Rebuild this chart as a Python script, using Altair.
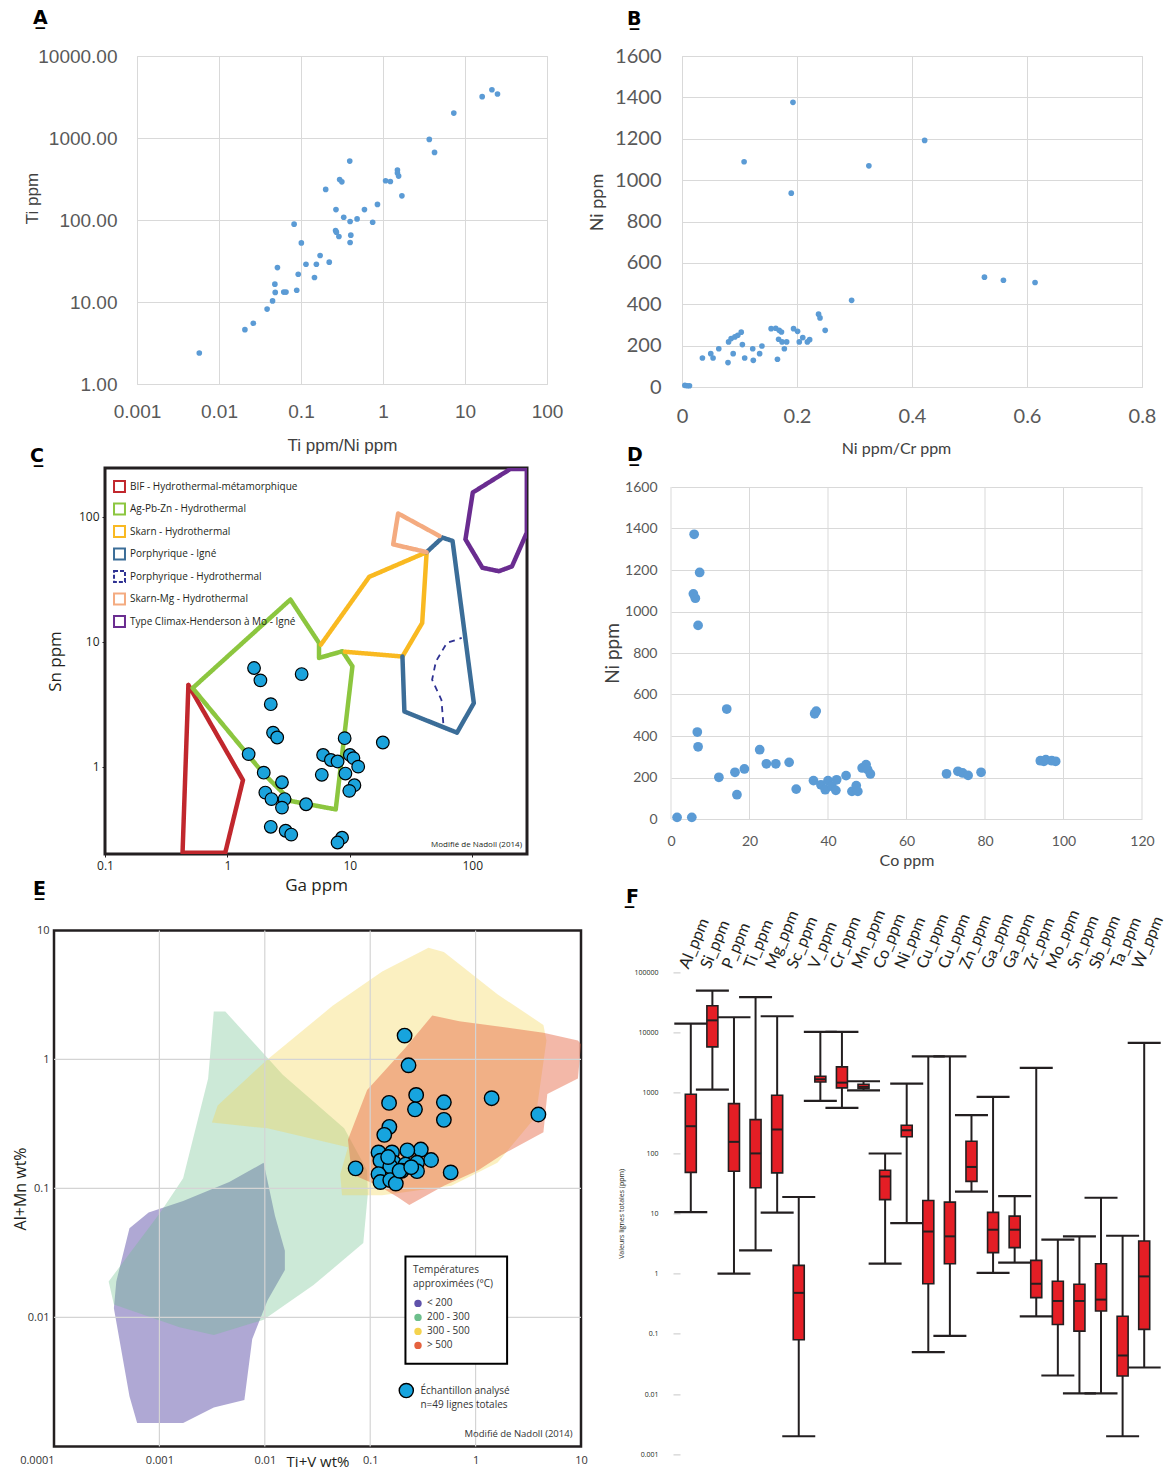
import altair as alt
import pandas as pd

# ------------------------------------------------------------------ Panel A
A_X = [0.00575, 0.0207, 0.0262, 0.0386, 0.045, 0.0485, 0.048, 0.0516, 0.0616, 0.0656,
       0.0887, 0.0925, 0.0824, 0.101, 0.115, 0.146, 0.154, 0.171, 0.221, 0.2,
       0.267, 0.264, 0.27, 0.29, 0.296, 0.315, 0.332, 0.393, 0.397, 0.405,
       0.397, 0.483, 0.594, 0.748, 0.856, 1.076, 1.23, 1.5, 1.5, 1.55,
       1.7, 3.67, 4.25, 7.3, 16.2, 21.3, 24.9]
A_Y = [2.39, 4.6, 5.5, 8.2, 10.3, 13.1, 16.5, 26.3, 13.2, 13.2,
       13.9, 21.8, 89, 52.6, 28.9, 19.9, 28.9, 36.9, 30.6, 236,
       134, 74.5, 71, 62.9, 312, 292, 108, 523, 95.9, 65.3,
       53.1, 103, 134, 94, 155, 301, 295, 406, 374, 343,
       197, 961, 667, 2015, 3191, 3880, 3436]
A_XTICKS = [0.001, 0.01, 0.1, 1, 10, 100]
A_YTICKS = [1, 10, 100, 1000, 10000]

# ------------------------------------------------------------------ Panel B
B_X = [0.005, 0.013, 0.009, 0.0355, 0.05, 0.054, 0.064, 0.080, 0.081, 0.089,
       0.0855, 0.092, 0.097, 0.103, 0.105, 0.109, 0.123, 0.124, 0.135, 0.139,
       0.108, 0.155, 0.163, 0.169, 0.173, 0.166, 0.168, 0.174, 0.178, 0.182,
       0.193, 0.19, 0.194, 0.201, 0.204, 0.21, 0.218, 0.222, 0.2375, 0.24,
       0.249, 0.295, 0.325, 0.422, 0.526, 0.559, 0.614]
B_Y = [8, 6, 6, 140, 161, 140, 185, 118, 218, 161,
       234, 242, 250, 265, 205, 140, 185, 129, 161, 198,
       1089, 282, 284, 274, 266, 134, 231, 218, 185, 218,
       1376, 937, 282, 269, 218, 239, 218, 229, 352, 334,
       274, 419, 1069, 1192, 531, 516, 505]
B_XTICKS = [0, 0.2, 0.4, 0.6, 0.8]
B_YTICKS = [0, 200, 400, 600, 800, 1000, 1200, 1400, 1600]

# ------------------------------------------------------------------ Panel C
C_GA = [1.65, 1.86, 4.04, 2.26, 2.36, 2.55, 1.49, 9.07, 18.6, 6.05,
        7.0, 7.94, 10, 10.7, 11.7, 1.98, 5.9, 9.2, 2.79, 10.9,
        9.9, 2.04, 2.29, 2.93, 2.79, 4.39, 2.26, 2.99, 3.32, 8.64, 7.94]
C_SN = [6.15, 4.9, 5.5, 3.16, 1.87, 1.71, 1.26, 1.69, 1.56, 1.24,
        1.13, 1.1, 1.24, 1.17, 1.0, 0.895, 0.86, 0.88, 0.75, 0.71,
        0.64, 0.62, 0.55, 0.55, 0.47, 0.50, 0.33, 0.307, 0.286, 0.27, 0.247]
C_TYPES = ["BIF - Hydrothermal-métamorphique", "Ag-Pb-Zn - Hydrothermal",
           "Skarn - Hydrothermal", "Porphyrique - Igné", "Porphyrique - Hydrothermal",
           "Skarn-Mg - Hydrothermal", "Type Climax-Henderson à Mo - Igné"]
C_COLORS = ["#c1272d", "#8cc63f", "#f9b921", "#3b6d98", "#2e3192", "#f4ab80", "#6a2c90"]
C_DASHES = [[1, 0], [1, 0], [1, 0], [1, 0], [4, 2], [1, 0], [1, 0]]
C_BIF_X = [0.48, 1.34, 0.96, 0.43, 0.48]
C_BIF_Y = [4.5, 0.78, 0.205, 0.205, 4.5]
C_AGPBZN_X = [0.52, 3.27, 5.6, 5.6, 8.7, 10.5, 7.67, 3.32, 1.97, 0.52]
C_AGPBZN_Y = [4.25, 21.7, 9.76, 7.4, 8.37, 6.35, 0.455, 0.53, 0.88, 4.25]
C_SKARN_X = [5.8, 14.4, 42.4, 39, 26.9, 9.1]
C_SKARN_Y = [9.46, 33, 52, 14.1, 7.6, 8.3]
C_PORIG_X = [26.9, 27.9, 75, 103, 69, 57, 42.4]
C_PORIG_Y = [7.6, 2.76, 1.87, 3.22, 64, 68, 52]
C_PORHYD_X = [58, 56, 47, 50.5, 62, 82]
C_PORHYD_Y = [2.23, 3.42, 4.96, 6.95, 9.76, 10.7]
C_SKMG_X = [42.4, 22.6, 24.8, 54]
C_SKMG_Y = [52, 60, 106, 70]
C_CLIMAX_X = [88, 101, 204, 279, 279, 211, 165, 121, 88]
C_CLIMAX_Y = [65.8, 156, 240, 240, 74.5, 40, 36.6, 39, 65.8]
C_XTICKS = [0.1, 1, 10, 100]
C_YTICKS = [1, 10, 100]

# ------------------------------------------------------------------ Panel D
D_X = [1.55, 5.3, 5.9, 7.3, 5.7, 6.2, 6.9, 6.7, 6.9, 14.2,
       12.2, 16.3, 16.8, 18.7, 22.6, 24.3, 26.7, 30.1, 31.9, 36.6,
       36.3, 38.2, 39.3, 40, 41, 42, 42.2, 44.6, 46.1, 47.2,
       47.6, 48.7, 49.7, 50.1, 50.8, 70.2, 73.1, 74.3, 75.7, 79,
       94.1, 95.5, 97, 98, 95, 37]
D_Y = [8, 8, 1372, 1188, 1085, 1064, 933, 419, 348, 530,
       201, 225, 117, 241, 334, 266, 266, 273, 144, 507,
       185, 165, 141, 185, 157, 138, 189, 209, 133, 161,
       133, 246, 262, 238, 217, 218, 230, 222, 210, 225,
       281, 286, 281, 278, 278, 520]
D_XTICKS = [0, 20, 40, 60, 80, 100, 120]
D_YTICKS = [0, 200, 400, 600, 800, 1000, 1200, 1400, 1600]

# ------------------------------------------------------------------ Panel E
E_X = [0.212, 0.231, 0.273, 0.266, 0.151, 0.5, 0.5, 1.42, 3.94, 0.152,
       0.136, 0.0727, 0.58, 0.378, 0.302, 0.225, 0.12, 0.161, 0.125, 0.168,
       0.216, 0.278, 0.278, 0.199, 0.155, 0.12, 0.125, 0.155, 0.175, 0.19,
       0.148, 0.245]
E_Y = [1.53, 0.90, 0.53, 0.41, 0.46, 0.465, 0.34, 0.50, 0.374, 0.30,
       0.26, 0.143, 0.133, 0.166, 0.2, 0.197, 0.19, 0.19, 0.164, 0.158,
       0.153, 0.158, 0.136, 0.137, 0.148, 0.129, 0.112, 0.116, 0.109, 0.137,
       0.175, 0.146]
E_ZONES = ["< 200", "200 - 300", "300 - 500", "> 500"]
E_COLORS = ["#5f52aa", "#6dbf8c", "#f4d34e", "#e5623f"]
E_OPAC = [0.5, 0.35, 0.35, 0.45]
E_PURPLE_X = [0.00975, 0.0125, 0.0155, 0.0155, 0.0106, 0.0076, 0.0064, 0.00328, 0.00168,
              0.000615, 0.00052, 0.00037, 0.00039, 0.00052, 0.00079, 0.00168, 0.0046]
E_PURPLE_Y = [0.158, 0.061, 0.0328, 0.0233, 0.0135, 0.0068, 0.00229, 0.002, 0.00152,
              0.00152, 0.00245, 0.0118, 0.019, 0.049, 0.065, 0.0798, 0.112]
E_GREEN_X = [0.00328, 0.00422, 0.0148, 0.0566, 0.0935, 0.095, 0.086, 0.029, 0.00975,
             0.00328, 0.00155, 0.00037, 0.00033, 0.00102, 0.00168, 0.0029]
E_GREEN_Y = [2.35, 2.35, 0.76, 0.292, 0.138, 0.0915, 0.0377, 0.0178, 0.0096,
             0.0073, 0.0084, 0.0126, 0.019, 0.065, 0.12, 0.71]
E_YELLOW_X = [0.00315, 0.00357, 0.0106, 0.044, 0.13, 0.357, 0.5, 1.61, 4.4,
              4.7, 3.72, 1.61, 0.59, 0.13, 0.054, 0.052, 0.0615, 0.0106]
E_YELLOW_Y = [0.324, 0.44, 1.0, 2.6, 4.8, 7.35, 6.8, 3.2, 1.85,
              1.4, 0.359, 0.158, 0.105, 0.0885, 0.0885, 0.129, 0.208, 0.292]
E_RED_X = [0.0615, 0.0935, 0.216, 0.388, 0.7, 4.4, 9.35, 10, 9.35,
           4.79, 4.4, 1.75, 1.06, 0.5, 0.235, 0.183, 0.12, 0.067]
E_RED_Y = [0.238, 0.58, 1.23, 2.19, 1.98, 1.61, 1.4, 1.31, 0.71,
           0.54, 0.273, 0.181, 0.138, 0.105, 0.0745, 0.0855, 0.105, 0.129]
E_XTICKS = [0.0001, 0.001, 0.01, 0.1, 1, 10]
E_YTICKS = [0.01, 0.1, 1, 10]
E_GRID_X = [0.001, 0.01, 0.1, 1]
E_GRID_Y = [0.01, 0.1, 1]
E_SAMPLE_TEXT = "Échantillon analysé\nn=49 lignes totales"
NADOLL = "Modifié de Nadoll (2014)"

# ------------------------------------------------------------------ Panel F
F_LABELS = ["Al_ppm", "Si_ppm", "P_ppm", "Ti_ppm", "Mg_ppm", "Sc_ppm", "V_ppm", "Cr_ppm",
            "Mn_ppm", "Co_ppm", "Ni_ppm", "Cu_ppm", "Cu_ppm", "Zn_ppm", "Ga_ppm", "Ga_ppm",
            "Zr_ppm", "Mo_ppm", "Sn_ppm", "Sb_ppm", "Ta_ppm", "W_ppm"]
F_LO = [10.5, 1130, 1.0, 2.44, 10.3, 0.002, 740, 564, 1100, 1.47, 6.9,
        0.05, 0.093, 23, 1.03, 1.52, 0.196, 0.0204, 0.0103, 0.0103, 0.002, 0.0277]
F_Q1 = [48, 5800, 50, 26.6, 47, 0.08, 1520, 1210, 1180, 16.9, 187,
        0.68, 1.46, 34, 2.23, 2.7, 0.40, 0.143, 0.111, 0.24, 0.020, 0.119]
F_MED = [280, 16000, 154, 99, 247, 0.48, 1680, 1480, 1260, 41, 240,
         5.0, 4.16, 59, 5.36, 5.36, 0.68, 0.352, 0.352, 0.371, 0.0438, 0.90]
F_Q3 = [950, 28000, 665, 360, 915, 1.37, 1890, 2700, 1390, 52, 291,
        16.4, 15.4, 158, 10.4, 9.0, 1.66, 0.746, 0.666, 1.46, 0.196, 3.48]
F_HI = [14100, 50000, 18000, 39000, 18700, 18.7, 10300, 10300, 1560, 98.7, 1430,
        4050, 4050, 427, 860, 19.4, 2600, 3.66, 4.16, 18.2, 4.26, 6740]
F_YTICKS = [0.001, 0.01, 0.1, 1, 10, 100, 1000, 10000, 100000]

# ================================================================== styling helpers
XL_BLUE = "#5b9bd5"
GRID = "#d9d9d9"
INK = "#231f20"

# layout: D and F plot areas start lower than their row neighbours; their
# scales get head-room above the top tick so that the tops line up.
D_H, D_SHIFT = 332, 19
F_H, F_SHIFT = 482, 42
D_TOP = 1600 * (D_H + D_SHIFT) / D_H
F_TOP = 100000 * 10 ** (8 * F_SHIFT / F_H)


def ptitle(letter, dx, offset, dy=0):
    return alt.TitleParams(text=letter + "\u0332", anchor="start", frame="group",
                           font="DejaVu Sans", fontSize=19, fontWeight="bold",
                           color="black", dx=dx, dy=dy, offset=offset)


def excel_axis(title, values, fmt, font, lsize, tsize, lpad, tx=None, ty=None, grid=True):
    kw = dict(title=title, values=values, format=fmt, labelFont=font, labelFontSize=lsize,
              labelColor="#595959", titleFont=font, titleFontSize=tsize,
              titleFontWeight="normal", titleColor="#404040", grid=grid, gridColor=GRID,
              gridWidth=1, domain=False, ticks=False, labelPadding=lpad,
              labelFlush=False, labelOverlap=False, titleBaseline="middle")
    if tx is not None:
        kw["titleX"] = tx
    if ty is not None:
        kw["titleY"] = ty
    return alt.Axis(**kw)


def spacer(w, h):
    return alt.Chart(pd.DataFrame({"s": [0]})).mark_point(opacity=0, size=0, strokeWidth=0).encode(
        x=alt.X("s:Q", axis=None, scale=alt.Scale(domain=[0, 1])),
        y=alt.Y("s:Q", axis=None, scale=alt.Scale(domain=[0, 1]))
    ).properties(width=w, height=h)


# ================================================================== Panel A
chartA = alt.Chart(pd.DataFrame({"x": A_X, "y": A_Y})).mark_circle(
    size=32, color=XL_BLUE, opacity=1
).encode(
    x=alt.X("x:Q", scale=alt.Scale(type="log", domain=[0.001, 100], nice=False),
            axis=excel_axis("Ti ppm/Ni ppm", A_XTICKS, "~g", "Liberation Sans", 19, 17, 18, ty=61)),
    y=alt.Y("y:Q", scale=alt.Scale(type="log", domain=[1, 10000], nice=False),
            axis=excel_axis("Ti ppm", A_YTICKS, ".2f", "Liberation Sans", 19, 17, 20, tx=-105, ty=142)),
).properties(width=410, height=328, view=alt.ViewBackground(stroke=GRID, strokeWidth=1),
             title=ptitle("A", -104, 19))

# ================================================================== Panel B
chartB = alt.Chart(pd.DataFrame({"x": B_X, "y": B_Y})).mark_circle(
    size=32, color=XL_BLUE, opacity=1
).encode(
    x=alt.X("x:Q", scale=alt.Scale(domain=[0, 0.8], nice=False, zero=False),
            axis=excel_axis("Ni ppm/Cr ppm", B_XTICKS, "~g", "Lato", 20, 16, 19, tx=214, ty=61)),
    y=alt.Y("y:Q", scale=alt.Scale(domain=[0, 1600], nice=False),
            axis=excel_axis("Ni ppm", B_YTICKS, "d", "Lato", 20, 18, 21, tx=-85, ty=146)),
).properties(width=460, height=331, view=alt.ViewBackground(stroke=GRID, strokeWidth=1),
             title=ptitle("B", -55, 17))

# ================================================================== Panel C
cx = alt.Scale(type="log", domain=[0.1, 280], nice=False)
cy = alt.Scale(type="log", domain=[0.2, 245], nice=False)
c_xaxis = alt.Axis(title="Ga ppm", values=C_XTICKS, format="~g", labelFont="Open Sans",
                   labelFontSize=12, labelColor=INK, titleFont="Open Sans", titleFontSize=17,
                   titleFontWeight="normal", titleColor=INK, grid=False, domain=False,
                   ticks=True, tickSize=3, tickColor=INK, labelPadding=3, labelFlush=False,
                   labelOverlap=False, titleY=31, titleBaseline="middle")
c_yaxis = alt.Axis(title="Sn ppm", values=C_YTICKS, format="~g", labelFont="Open Sans",
                   labelFontSize=12, labelColor=INK, titleFont="Open Sans", titleFontSize=17,
                   titleFontWeight="normal", titleColor=INK, grid=False, domain=False,
                   ticks=True, tickSize=3, tickColor=INK, labelPadding=3, labelFlush=False,
                   labelOverlap=False, titleX=-50, titleBaseline="middle")
C_LEGEND = alt.Legend(title=None, orient="none", legendX=59, legendY=12, symbolType="square",
                      symbolSize=120, symbolStrokeWidth=2, symbolFillColor="white",
                      labelFont="Open Sans", labelFontSize=10, labelColor=INK, labelLimit=320,
                      labelOffset=4, rowPadding=3.5, padding=0)

poly_src = [(C_TYPES[0], C_BIF_X, C_BIF_Y), (C_TYPES[1], C_AGPBZN_X, C_AGPBZN_Y),
            (C_TYPES[2], C_SKARN_X, C_SKARN_Y), (C_TYPES[3], C_PORIG_X, C_PORIG_Y),
            (C_TYPES[5], C_SKMG_X, C_SKMG_Y), (C_TYPES[6], C_CLIMAX_X, C_CLIMAX_Y)]
rows = []
for t, xs, ys in poly_src:
    for i, (xv, yv) in enumerate(zip(xs, ys)):
        rows.append({"type": t, "i": i, "x": xv, "y": yv})
dfCpoly = pd.DataFrame(rows)

c_polys = alt.Chart(dfCpoly).mark_line(strokeWidth=4.5, strokeJoin="round", strokeCap="round",
                                       clip=True).encode(
    x=alt.X("x:Q", scale=cx, axis=c_xaxis),
    y=alt.Y("y:Q", scale=cy, axis=c_yaxis),
    color=alt.Color("type:N", scale=alt.Scale(domain=C_TYPES, range=C_COLORS), legend=C_LEGEND),
    strokeDash=alt.StrokeDash("type:N", scale=alt.Scale(domain=C_TYPES, range=C_DASHES),
                              legend=C_LEGEND),
    detail="type:N",
    order="i:Q",
)
c_dash = alt.Chart(pd.DataFrame({"x": C_PORHYD_X, "y": C_PORHYD_Y,
                                 "i": list(range(len(C_PORHYD_X)))})).mark_line(
    strokeWidth=1.8, strokeDash=[6, 5], color=C_COLORS[4]
).encode(x=alt.X("x:Q", scale=cx, axis=c_xaxis), y=alt.Y("y:Q", scale=cy, axis=c_yaxis),
         order="i:Q")
c_pts = alt.Chart(pd.DataFrame({"x": C_GA, "y": C_SN})).mark_circle(
    size=160, color="#1ba3dc", stroke="black", strokeWidth=1.2, opacity=1
).encode(x=alt.X("x:Q", scale=cx, axis=c_xaxis), y=alt.Y("y:Q", scale=cy, axis=c_yaxis))
c_txt = alt.Chart(pd.DataFrame({"x": [255], "y": [0.238], "t": [NADOLL]})).mark_text(
    align="right", baseline="middle", font="Open Sans", fontSize=8, color=INK
).encode(x=alt.X("x:Q", scale=cx, axis=c_xaxis), y=alt.Y("y:Q", scale=cy, axis=c_yaxis),
         text="t:N")
chartC = alt.layer(c_polys, c_dash, c_pts, c_txt).properties(
    width=422, height=386, view=alt.ViewBackground(stroke=INK, strokeWidth=3),
    title=ptitle("C", -75, 2))

# ================================================================== Panel D
dx_enc = alt.X("x:Q", scale=alt.Scale(domain=[0, 120], nice=False),
               axis=excel_axis("Co ppm", D_XTICKS, "d", "Lato", 14, 16, 15, ty=41, grid=False))
dy_enc = alt.Y("y:Q", scale=alt.Scale(domain=[0, D_TOP], nice=False),
               axis=excel_axis("Ni ppm", D_YTICKS, "d", "Lato", 14, 19, 14, tx=-59,
                               ty=D_SHIFT + D_H / 2))
d_vgrid = alt.Chart(pd.DataFrame({"x": D_XTICKS, "y": 0, "y2": 1600})).mark_rule(
    color=GRID, strokeWidth=1).encode(x=dx_enc, y=dy_enc, y2="y2:Q")
d_pts = alt.Chart(pd.DataFrame({"x": D_X, "y": D_Y})).mark_circle(
    size=95, color=XL_BLUE, opacity=1).encode(x=dx_enc, y=dy_enc)
chartD = alt.layer(d_vgrid, d_pts).properties(width=471, height=D_H + D_SHIFT,
                                             title=ptitle("D", -44, 3))

# ================================================================== Panel E
ex = alt.Scale(type="log", domain=[0.0001, 10], nice=False)
ey = alt.Scale(type="log", domain=[0.001, 10], nice=False)
e_xaxis = alt.Axis(title="Ti+V wt%", values=E_XTICKS, format="~g", labelFont="Open Sans",
                   labelFontSize=11, labelColor="#333333", titleFont="Open Sans",
                   titleFontSize=15, titleFontWeight="normal", titleColor=INK, grid=False,
                   domain=False, ticks=False, labelPadding=8, labelFlush=False,
                   labelOverlap=False, titleY=15, titleBaseline="middle",
                   labelAlign={"condition": {"test": "datum.value < 0.0005", "value": "right"},
                               "value": "center"})
e_yaxis = alt.Axis(title="Al+Mn wt%", values=E_YTICKS, format="~g", labelFont="Open Sans",
                   labelFontSize=11, labelColor="#333333", titleFont="Open Sans",
                   titleFontSize=16, titleFontWeight="normal", titleColor=INK, grid=False,
                   domain=False, ticks=False, labelPadding=5, labelFlush=False,
                   labelOverlap=False, titleX=-34, titleBaseline="middle")
E_LEGEND = alt.Legend(title=["Températures", "approximées (°C)"], orient="none",
                      legendX=351, legendY=327, symbolType="circle", symbolSize=55,
                      symbolOpacity=1, symbolStrokeWidth=0, titleFont="Open Sans",
                      titleFontSize=10, titleFontWeight="normal", titleColor="#333333",
                      titleLineHeight=14, titlePadding=9, labelFont="Open Sans",
                      labelFontSize=10, labelColor="#333333", padding=8, rowPadding=4)
zone_scale = alt.Scale(domain=E_ZONES, range=E_COLORS)


def e_shape(xs, ys, k):
    df = pd.DataFrame({"x": xs, "y": ys, "i": list(range(len(xs))), "zone": E_ZONES[k]})
    return alt.Chart(df).mark_line(filled=True, fillOpacity=E_OPAC[k],
                                   interpolate="linear-closed").encode(
        x=alt.X("x:Q", scale=ex, axis=e_xaxis), y=alt.Y("y:Q", scale=ey, axis=e_yaxis),
        order="i:Q", color=alt.Color("zone:N", scale=zone_scale, legend=E_LEGEND))


e_shapes = [e_shape(E_PURPLE_X, E_PURPLE_Y, 0), e_shape(E_GREEN_X, E_GREEN_Y, 1),
            e_shape(E_YELLOW_X, E_YELLOW_Y, 2), e_shape(E_RED_X, E_RED_Y, 3)]
e_vgrid = alt.Chart(pd.DataFrame({"x": E_GRID_X})).mark_rule(color="#d4d4d4", strokeWidth=1.2).encode(
    x=alt.X("x:Q", scale=ex, axis=e_xaxis))
e_hgrid = alt.Chart(pd.DataFrame({"y": E_GRID_Y})).mark_rule(color="#d4d4d4", strokeWidth=1.2).encode(
    y=alt.Y("y:Q", scale=ey, axis=e_yaxis))
e_box = alt.Chart(pd.DataFrame({"x": [0.216], "x2": [1.99], "y": [0.0296], "y2": [0.00438]})).mark_rect(
    fill="white", stroke="black", strokeWidth=2
).encode(x=alt.X("x:Q", scale=ex, axis=e_xaxis), x2="x2:Q",
         y=alt.Y("y:Q", scale=ey, axis=e_yaxis), y2="y2:Q")
e_pts = alt.Chart(pd.DataFrame({"x": E_X, "y": E_Y})).mark_circle(
    size=210, color="#17a4de", stroke="black", strokeWidth=1.4, opacity=1
).encode(x=alt.X("x:Q", scale=ex, axis=e_xaxis), y=alt.Y("y:Q", scale=ey, axis=e_yaxis))
e_key_pt = alt.Chart(pd.DataFrame({"x": [0.22], "y": [0.00271]})).mark_circle(
    size=200, color="#17a4de", stroke="black", strokeWidth=1.4, opacity=1
).encode(x=alt.X("x:Q", scale=ex, axis=e_xaxis), y=alt.Y("y:Q", scale=ey, axis=e_yaxis))
e_key_txt = alt.Chart(pd.DataFrame({"x": [0.3], "y": [0.00271], "t": [E_SAMPLE_TEXT]})).mark_text(
    align="left", baseline="middle", font="Open Sans", fontSize=10, color="#333333",
    lineBreak="\n", lineHeight=14
).encode(x=alt.X("x:Q", scale=ex, axis=e_xaxis), y=alt.Y("y:Q", scale=ey, axis=e_yaxis),
         text="t:N")
e_nad = alt.Chart(pd.DataFrame({"x": [8.3], "y": [0.00124], "t": [NADOLL]})).mark_text(
    align="right", baseline="middle", font="Open Sans", fontSize=9.5, color="#333333"
).encode(x=alt.X("x:Q", scale=ex, axis=e_xaxis), y=alt.Y("y:Q", scale=ey, axis=e_yaxis),
         text="t:N")
chartE = alt.layer(*e_shapes, e_vgrid, e_hgrid, e_box, e_pts, e_key_pt, e_key_txt, e_nad).properties(
    width=527, height=516, view=alt.ViewBackground(stroke=INK, strokeWidth=2.5),
    title=ptitle("E", -21, 25))

# ================================================================== Panel F
dfF = pd.DataFrame({"k": list(range(len(F_LABELS))), "lo": F_LO, "q1": F_Q1,
                    "med": F_MED, "q3": F_Q3, "hi": F_HI})
label_expr = "[" + ", ".join("'" + s + "'" for s in F_LABELS) + "][datum.value]"
fx = alt.X("k:O", scale=alt.Scale(paddingInner=0, paddingOuter=0),
           axis=alt.Axis(orient="top", title=None, labelExpr=label_expr, labelAngle=293,
                         labelAlign="left", labelBaseline="middle", labelFont="Lato",
                         labelFontSize=16, labelColor=INK, labelPadding=5, labelOffset=-7,
                         ticks=False, domain=False, grid=False, labelOverlap=False,
                         labelLimit=220, offset=-F_SHIFT))
fys = alt.Scale(type="log", domain=[0.001, F_TOP], nice=False)
fyaxis = alt.Axis(title="Valeurs lignes totales (ppm)", values=F_YTICKS, format="~g",
                  labelFont="Open Sans", labelFontSize=7, labelColor=INK, ticks=True,
                  tickColor="#c8c8c8", tickSize=7, tickWidth=1, domain=False, grid=False,
                  labelPadding=15, labelFlush=False, labelOverlap=False, titleFont="Open Sans",
                  titleFontSize=7, titleFontWeight="normal", titleColor=INK, titleX=-59,
                  titleY=F_SHIFT + F_H / 2, titleBaseline="middle")
f_whisk = alt.Chart(dfF).mark_rule(color=INK, strokeWidth=2).encode(
    x=fx, y=alt.Y("lo:Q", scale=fys, axis=fyaxis), y2="hi:Q")
f_cap_lo = alt.Chart(dfF).mark_tick(size=33, thickness=2.2, color=INK, opacity=1).encode(
    x=fx, y=alt.Y("lo:Q", scale=fys, axis=fyaxis))
f_cap_hi = alt.Chart(dfF).mark_tick(size=33, thickness=2.2, color=INK, opacity=1).encode(
    x=fx, y=alt.Y("hi:Q", scale=fys, axis=fyaxis))
f_box = alt.Chart(dfF).mark_bar(size=11, color="#e41e25", stroke=INK, strokeWidth=1.6).encode(
    x=fx, y=alt.Y("q1:Q", scale=fys, axis=fyaxis), y2="q3:Q")
f_med = alt.Chart(dfF).mark_tick(size=11, thickness=2, color=INK, opacity=1).encode(
    x=fx, y=alt.Y("med:Q", scale=fys, axis=fyaxis))
chartF = alt.layer(f_whisk, f_cap_lo, f_cap_hi, f_box, f_med).properties(
    width=475, height=F_H + F_SHIFT, title=ptitle("F", -54, 0))

# ================================================================== layout
row1 = alt.hconcat(spacer(83, 1), chartA, spacer(135, 1), chartB, spacing=0, bounds="flush")
row2 = alt.hconcat(spacer(51, 1), chartC, spacer(144, 1), chartD, spacing=0, bounds="flush")
row3 = alt.hconcat(chartE, spacer(99, 1), chartF, spacing=0, bounds="flush")
top2 = alt.vconcat(row1, row2, spacing=-12).resolve_scale(color="independent",
                                                           strokeDash="independent")
chart = alt.vconcat(top2, row3, spacing=-16.6).resolve_scale(
    color="independent", strokeDash="independent"
).properties(
    padding={"left": 2, "top": 0, "right": -1, "bottom": 0}
).configure_view(stroke="transparent")

chart.save("out.html", embed_options={"renderer": "svg", "actions": False})
